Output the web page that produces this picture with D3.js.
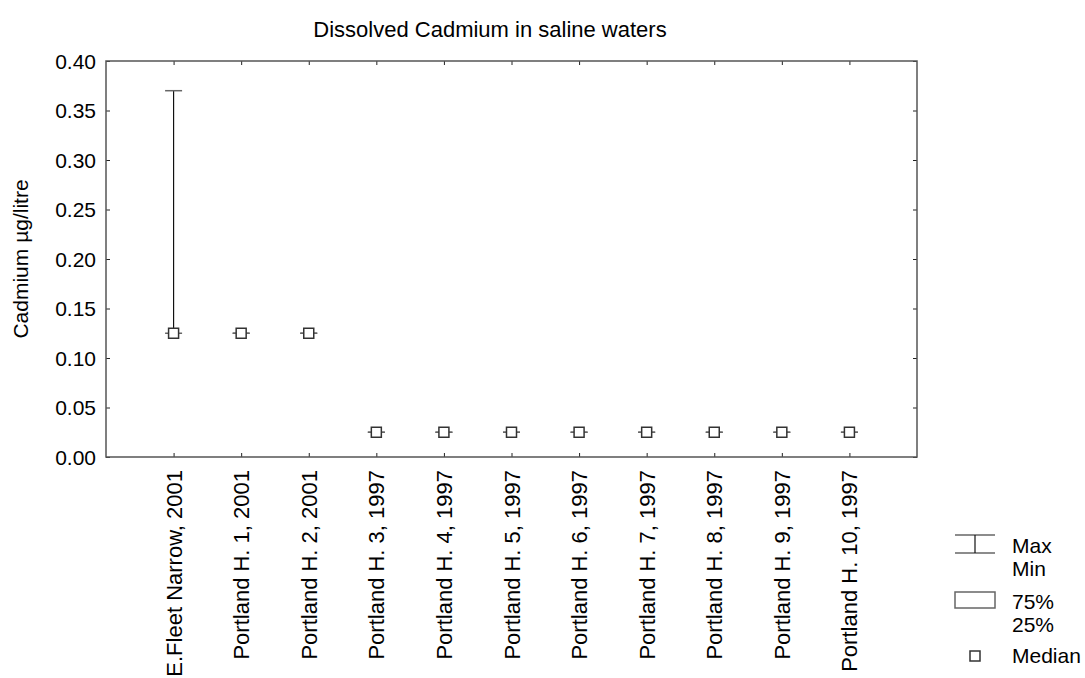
<!DOCTYPE html>
<html>
<head>
<meta charset="utf-8">
<script src="https://cdn.jsdelivr.net/npm/d3@7"></script>
<style>
  body { margin: 0; background: #fff; }
  svg { display: block; }
  text { font-family: "Liberation Sans", Arial, sans-serif; fill: #000; }
</style>
</head>
<body>
<svg id="chart" width="1085" height="678"></svg>
<script>
const categories = [
  "E.Fleet Narrow, 2001", "Portland H. 1, 2001", "Portland H. 2, 2001",
  "Portland H. 3, 1997", "Portland H. 4, 1997", "Portland H. 5, 1997",
  "Portland H. 6, 1997", "Portland H. 7, 1997", "Portland H. 8, 1997",
  "Portland H. 9, 1997", "Portland H. 10, 1997"
];
const minValues    = [0.125, 0.125, 0.125, 0.025, 0.025, 0.025, 0.025, 0.025, 0.025, 0.025, 0.025];
const q1Values     = [0.125, 0.125, 0.125, 0.025, 0.025, 0.025, 0.025, 0.025, 0.025, 0.025, 0.025];
const medianValues = [0.125, 0.125, 0.125, 0.025, 0.025, 0.025, 0.025, 0.025, 0.025, 0.025, 0.025];
const q3Values     = [0.125, 0.125, 0.125, 0.025, 0.025, 0.025, 0.025, 0.025, 0.025, 0.025, 0.025];
const maxValues    = [0.37, 0.125, 0.125, 0.025, 0.025, 0.025, 0.025, 0.025, 0.025, 0.025, 0.025];
const yTicks = [0, 0.05, 0.10, 0.15, 0.20, 0.25, 0.30, 0.35, 0.40];
const titleText = "Dissolved Cadmium in saline waters";
const yLabel = "Cadmium µg/litre";
const legendItems = [["Max", "Min"], ["75%", "25%"], ["Median"]];

const svg = d3.select("#chart");
const pL = 106, pR = 917, pT = 61, pB = 457;
const frameColor = "#555";
const fs = "21px", fsBig = "22px";

const x = d3.scalePoint().domain(categories).range([pL, pR]).padding(1);
const y = d3.scaleLinear().domain([0, 0.4]).range([pB, pT]);

// Title
svg.append("text").attr("x", 490).attr("y", 37).attr("text-anchor", "middle")
  .style("font-size", fsBig).text(titleText);

// Axes with inward ticks
const fmt = d3.format(".2f");
const gL = svg.append("g").attr("transform", `translate(${pL},0)`)
  .call(d3.axisRight(y).tickValues(yTicks).tickSize(4).tickFormat(""));
const gR = svg.append("g").attr("transform", `translate(${pR},0)`)
  .call(d3.axisLeft(y).tickValues(yTicks).tickSize(4).tickFormat(""));
const gT = svg.append("g").attr("transform", `translate(0,${pT})`)
  .call(d3.axisBottom(x).tickSize(4).tickFormat(""));
const gB = svg.append("g").attr("transform", `translate(0,${pB})`)
  .call(d3.axisTop(x).tickSize(4).tickFormat(""));
[gL, gR, gT, gB].forEach(g => {
  g.select(".domain").remove();
  g.selectAll(".tick line").attr("stroke", "#222").attr("stroke-width", 1);
});

// Frame
svg.append("rect").attr("x", pL).attr("y", pT)
  .attr("width", pR - pL).attr("height", pB - pT)
  .attr("fill", "none").attr("stroke", frameColor).attr("stroke-width", 1.5);

// Y tick labels
svg.append("g").selectAll("text").data(yTicks).join("text")
  .attr("x", pL - 10).attr("y", d => y(d)).attr("dy", "0.36em")
  .attr("text-anchor", "end").style("font-size", fs).text(d => fmt(d));

// Y label
svg.append("text").attr("transform", `translate(28,${(pT + pB) / 2}) rotate(-90)`)
  .attr("text-anchor", "middle").style("font-size", fs).text(yLabel);

// X labels
svg.append("g").selectAll("text").data(categories).join("text")
  .attr("transform", d => `translate(${x(d) + 8},470) rotate(-90)`)
  .attr("text-anchor", "end").style("font-size", fsBig).text(d => d);

// Box plots
const idx = d3.range(categories.length);
const g = svg.append("g");
const capW = 17, boxW = 26, medS = 10;
idx.forEach(i => {
  const cx = x(categories[i]);
  g.append("line").attr("x1", cx).attr("x2", cx)
    .attr("y1", y(q3Values[i])).attr("y2", y(maxValues[i]))
    .attr("stroke", "#111").attr("stroke-width", 1.2);
  g.append("line").attr("x1", cx).attr("x2", cx)
    .attr("y1", y(q1Values[i])).attr("y2", y(minValues[i]))
    .attr("stroke", "#111").attr("stroke-width", 1.2);
  [maxValues[i], minValues[i]].forEach(v => {
    g.append("line").attr("x1", cx - capW / 2).attr("x2", cx + capW / 2)
      .attr("y1", y(v)).attr("y2", y(v))
      .attr("stroke", "#666").attr("stroke-width", 1.5);
  });
  g.append("rect").attr("x", cx - boxW / 2).attr("width", boxW)
    .attr("y", y(q3Values[i])).attr("height", Math.max(0, y(q1Values[i]) - y(q3Values[i])))
    .attr("fill", "#fff").attr("stroke", "#666").attr("stroke-width", 1.5);
  g.append("rect").attr("x", cx - medS / 2).attr("y", y(medianValues[i]) - medS / 2)
    .attr("width", medS).attr("height", medS)
    .attr("fill", "#fff").attr("stroke", "#333").attr("stroke-width", 1.5);
});

// Legend
const lg = svg.append("g");
lg.append("line").attr("x1", 955).attr("x2", 995).attr("y1", 535).attr("y2", 535).attr("stroke", "#666").attr("stroke-width", 1.5);
lg.append("line").attr("x1", 955).attr("x2", 995).attr("y1", 553).attr("y2", 553).attr("stroke", "#666").attr("stroke-width", 1.5);
lg.append("line").attr("x1", 975).attr("x2", 975).attr("y1", 535).attr("y2", 553).attr("stroke", "#111").attr("stroke-width", 1.2);
lg.append("rect").attr("x", 955).attr("y", 592).attr("width", 40).attr("height", 16)
  .attr("fill", "#fff").attr("stroke", "#666").attr("stroke-width", 1.5);
lg.append("rect").attr("x", 970).attr("y", 651).attr("width", 10).attr("height", 10)
  .attr("fill", "#fff").attr("stroke", "#333").attr("stroke-width", 1.5);
const legendText = [
  [legendItems[0][0], 553], [legendItems[0][1], 576],
  [legendItems[1][0], 609], [legendItems[1][1], 632],
  [legendItems[2][0], 663]
];
lg.selectAll("text").data(legendText).join("text")
  .attr("x", 1012).attr("y", d => d[1]).style("font-size", fs).text(d => d[0]);
</script>
</body>
</html>
